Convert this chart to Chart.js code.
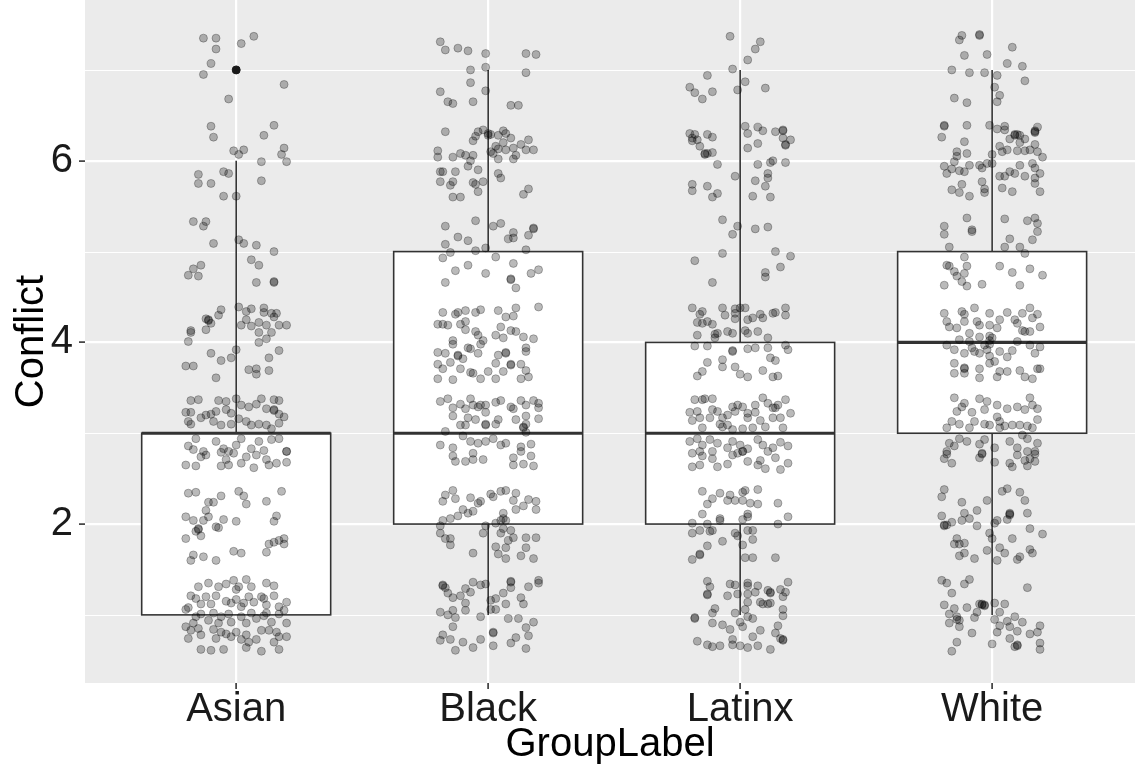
<!DOCTYPE html>
<html lang="en">
<head>
  <meta charset="UTF-8" />
  <title>Conflict by GroupLabel</title>
  <script src="https://cdn.jsdelivr.net/npm/chart.js"></script>
  <style>
    body { margin: 0; background: #fff; }
    #wrap { width: 1135px; height: 765px; position: relative; }
  </style>
</head>
<body>
<div id="wrap"><canvas id="chart"></canvas></div>
<script>
// groups and box statistics
const groups = ['Asian', 'Black', 'Latinx', 'White'];
const whiskerLow = [1, 1, 1, 1];
const q1 = [1, 2, 2, 3];
const medians = [3, 3, 3, 4];
const q3 = [3, 5, 4, 5];
const whiskerHigh = [6, 7, 7, 7];
const outliers = [[7], [], [], []];

const yTicks = [2, 4, 6];
const yMinor = [1, 3, 5, 7];

// jittered observations: [horizontal jitter, Conflict]
const asianPoints = [
  [-0.13,7.35],[-0.08,7.35],[-0.08,7.23],[0.02,7.29],[0.07,7.37],[-0.10,7.07],[-0.13,6.95],[0.19,6.84],[-0.03,6.68],[-0.10,6.38],
  [-0.09,6.26],[0.15,6.39],[0.11,6.28],[-0.01,6.11],[0.01,6.07],[0.03,6.12],[0.19,6.14],[0.18,6.07],[0.10,5.99],[0.20,5.99],
  [-0.15,5.85],[-0.15,5.75],[-0.10,5.75],[-0.05,5.88],[-0.03,5.86],[0.10,5.78],[-0.05,5.61],[0.00,5.61],[-0.17,5.33],[-0.12,5.33],[-0.13,5.28],
  [-0.09,5.09],[0.01,5.13],[0.03,5.09],[0.08,5.07],[0.15,5.00],[0.06,4.91],[0.09,4.85],[-0.14,4.85],[-0.17,4.81],[-0.19,4.74],
  [-0.15,4.73],[0.08,4.66],[0.15,4.67],[0.15,4.66],[-0.06,4.36],[-0.07,4.30],[-0.12,4.26],[-0.11,4.24],[-0.11,4.25],[-0.10,4.21],
  [-0.18,4.13],[-0.18,4.11],[-0.12,4.14],[-0.19,4.01],[0.01,4.39],[0.04,4.34],[0.06,4.37],[0.11,4.38],[0.11,4.33],[0.14,4.32],
  [0.16,4.32],[0.15,4.28],[0.04,4.25],[0.02,4.19],[0.06,4.18],[0.09,4.22],[0.12,4.19],[0.17,4.19],[0.20,4.19],[0.09,4.11],
  [0.14,4.11],[0.12,4.04],[0.09,4.00],[0.00,3.92],[0.17,3.91],[-0.10,3.88],[-0.06,3.80],[-0.02,3.83],[0.13,3.83],[-0.20,3.74],
  [-0.17,3.74],[0.05,3.70],[0.08,3.71],[0.08,3.65],[0.13,3.69],[-0.08,3.61],
  [-0.18,3.36],[-0.15,3.37],[-0.07,3.36],[-0.04,3.35],[0.00,3.38],[0.10,3.38],[0.15,3.37],[0.17,3.36],
  [-0.20,3.23],[-0.18,3.23],[-0.12,3.20],[-0.10,3.21],[-0.08,3.24],[-0.04,3.26],[-0.02,3.22],[0.02,3.31],[0.05,3.29],[0.08,3.32],
  [0.12,3.27],[0.15,3.26],[0.15,3.25],[0.17,3.21],[0.19,3.18],
  [-0.19,3.13],[-0.18,3.10],[-0.14,3.17],[-0.09,3.13],[-0.06,3.09],[-0.02,3.10],[0.01,3.16],[0.04,3.13],[0.06,3.09],[0.09,3.10],
  [0.12,3.09],[0.14,3.05],[0.17,3.11],
  [-0.19,2.86],[-0.16,2.94],[-0.17,2.82],[-0.13,2.80],[-0.08,2.91],[-0.05,2.83],[-0.03,2.80],[0.00,2.87],[0.02,2.94],[0.06,2.83],
  [0.09,2.91],[0.11,2.81],[0.14,2.93],[0.17,2.94],[0.20,2.80],
  [-0.20,2.65],[-0.16,2.64],[-0.14,2.74],[-0.12,2.76],[-0.06,2.79],[-0.04,2.71],[-0.03,2.65],[-0.01,2.78],[0.02,2.67],[0.04,2.74],
  [0.07,2.62],[0.08,2.76],[0.12,2.71],[0.13,2.65],[0.16,2.67],[0.20,2.68],[0.20,2.80],[-0.06,2.64],
  [-0.19,2.34],[-0.16,2.35],[-0.06,2.31],[0.01,2.36],[0.03,2.31],[0.04,2.22],[0.12,2.25],[0.18,2.36],[-0.11,2.24],[-0.09,2.24],
  [-0.12,2.15],[-0.11,2.08],[-0.20,2.08],[-0.17,2.04],[-0.13,2.04],[-0.05,2.05],[0.00,2.03],[-0.08,1.97],[-0.07,1.96],[0.16,2.09],
  [0.15,2.03],[-0.15,1.94],[-0.15,1.95],[-0.16,1.92],[-0.14,1.87],[-0.20,1.84],[0.13,1.78],[0.15,1.80],[0.17,1.82],[0.19,1.84],
  [0.19,1.78],[-0.17,1.66],[-0.18,1.60],[-0.13,1.64],[-0.08,1.60],[-0.01,1.70],[0.02,1.68],[0.12,1.69],
  [-0.15,1.31],[-0.11,1.35],[-0.07,1.31],[-0.04,1.34],[-0.01,1.38],[0.01,1.31],[0.04,1.39],[0.06,1.31],[0.12,1.35],[0.15,1.32],[0.00,1.28],
  [-0.18,1.21],[-0.16,1.18],[-0.14,1.12],[-0.10,1.12],[-0.08,1.21],[-0.04,1.15],[-0.02,1.13],[0.00,1.17],[0.03,1.13],[0.05,1.20],
  [0.07,1.14],[0.10,1.20],[0.12,1.11],[0.15,1.21],[0.17,1.09],[0.20,1.14],[-0.19,1.08],[-0.12,1.20],[0.02,1.09],[0.11,1.18],
  [-0.20,1.06],[-0.16,0.98],[-0.14,1.01],[-0.11,0.94],[-0.09,1.02],[-0.06,0.98],[-0.03,1.01],[-0.02,0.92],[0.02,0.98],[0.04,0.91],
  [0.06,1.02],[0.08,0.96],[0.11,0.99],[0.14,0.92],[0.17,1.01],[0.19,1.05],[0.20,0.91],[-0.17,0.91],[-0.07,0.91],[0.12,1.02],
  [-0.20,0.87],[-0.18,0.83],[-0.15,0.85],[-0.14,0.78],[-0.09,0.84],[-0.06,0.81],[-0.04,0.79],[-0.02,0.76],[0.00,0.81],[0.04,0.78],
  [0.05,0.70],[0.08,0.73],[0.10,0.83],[0.13,0.83],[0.16,0.81],[0.17,0.76],[0.20,0.76],[-0.19,0.74],[-0.08,0.74],[0.02,0.73],[0.15,0.70],
  [-0.14,0.62],[-0.10,0.61],[-0.05,0.62],[0.04,0.64],[0.10,0.60],[0.17,0.62]
];

const blackPoints = [
  [-0.19,7.31],[-0.17,7.22],[-0.12,7.24],[-0.08,7.21],[-0.01,7.18],[0.15,7.18],[0.19,7.17],[-0.07,7.00],[-0.01,7.03],[0.15,6.97],
  [-0.07,6.86],[-0.19,6.76],[-0.16,6.65],[-0.14,6.63],[-0.06,6.65],[-0.01,6.77],[0.09,6.61],[0.12,6.61],[-0.17,6.32],[-0.05,6.27],
  [-0.04,6.32],[-0.02,6.34],[0.00,6.28],[0.00,6.30],[0.01,6.29],[-0.06,6.22],
  [0.06,6.33],[0.07,6.30],[0.04,6.28],[0.09,6.25],[0.06,6.20],[0.03,6.16],[0.01,6.10],[0.04,6.13],[0.07,6.12],[0.10,6.14],
  [0.13,6.18],[0.16,6.23],[0.18,6.12],[0.15,6.12],[0.10,6.02],[0.11,6.06],[0.04,6.02],[0.02,6.08],
  [-0.20,6.11],[-0.20,6.04],[-0.14,6.04],[-0.11,6.08],[-0.09,6.06],[-0.06,6.06],[-0.07,6.00],[-0.08,5.94],[-0.04,5.90],[-0.19,5.88],
  [-0.18,5.88],[-0.13,5.88],[-0.19,5.77],[-0.15,5.73],[-0.14,5.77],[-0.06,5.76],[-0.05,5.74],[-0.02,5.77],[-0.04,5.66],[0.04,5.86],
  [0.05,5.81],[0.16,5.69],[0.14,5.63],[-0.14,5.60],[-0.11,5.60],[-0.17,5.28],[-0.05,5.34],[0.05,5.31],[0.02,5.28],[0.18,5.26],
  [-0.12,5.16],[-0.08,5.12],[0.10,5.21],[0.10,5.15],[0.08,5.14],[0.16,5.18],[0.18,5.25],[-0.17,5.08],[-0.15,4.99],[-0.18,4.93],
  [-0.05,5.01],[-0.01,5.04],[0.03,4.94],[0.15,5.02],[0.10,4.87],[-0.08,4.85],[-0.13,4.79],[-0.01,4.76],[0.17,4.76],[0.20,4.80],
  [0.09,4.69],[0.09,4.70],[0.11,4.60],[-0.17,4.66],
  [-0.18,4.33],[-0.13,4.31],[-0.12,4.33],[-0.09,4.35],[-0.05,4.33],[-0.03,4.36],[0.04,4.35],[0.07,4.28],[0.10,4.29],[0.11,4.38],
  [0.20,4.39],[-0.20,4.20],[-0.18,4.20],[-0.16,4.19],[-0.11,4.20],[-0.09,4.23],[-0.09,4.14],[-0.05,4.12],[-0.04,4.08],[0.03,4.08],
  [0.05,4.17],[0.06,4.05],[0.09,4.13],[0.11,4.12],[0.14,4.06],[0.18,4.04],[-0.14,4.02],[-0.14,3.98],[-0.03,3.98],[-0.02,4.02],
  [-0.04,3.88],[-0.08,3.94],[-0.07,3.93],[-0.20,3.89],[-0.17,3.88],[-0.12,3.86],[-0.12,3.85],[-0.10,3.82],[0.04,3.86],[0.07,3.89],
  [0.07,3.88],[0.15,3.90],[0.15,3.94],[-0.20,3.76],[-0.18,3.71],[-0.15,3.78],[-0.11,3.71],[-0.07,3.67],[-0.06,3.66],[-0.03,3.60],
  [0.00,3.68],[0.03,3.77],[0.06,3.68],[0.09,3.76],[0.09,3.75],[0.13,3.76],[0.15,3.69],[0.16,3.62],[0.13,3.60],[0.03,3.60],
  [-0.20,3.60],[-0.14,3.59],
  [-0.19,3.35],[-0.16,3.38],[-0.14,3.28],[-0.11,3.32],[-0.09,3.27],[-0.07,3.38],[-0.06,3.31],[-0.04,3.29],[-0.03,3.31],[-0.01,3.31],
  [0.03,3.34],[0.05,3.36],[0.09,3.29],[0.10,3.27],[0.13,3.36],[0.15,3.31],[0.18,3.36],[0.20,3.33],[0.20,3.28],
  [-0.14,3.19],[-0.11,3.09],[-0.09,3.09],[-0.08,3.17],[-0.05,3.15],[-0.01,3.10],[-0.01,3.23],[0.03,3.10],[0.04,3.15],[0.11,3.15],
  [0.15,3.19],[0.15,3.10],[0.20,3.16],[0.14,3.06],[-0.01,3.09],[0.14,3.07],
  [-0.17,3.02],[-0.19,2.87],[-0.14,2.84],[-0.10,2.97],[-0.07,2.91],[-0.04,2.89],[-0.01,2.91],[0.02,2.94],[0.05,2.87],[0.07,2.89],
  [0.13,2.85],[0.17,2.88],[0.15,3.01],
  [-0.14,2.75],[-0.13,2.69],[-0.09,2.69],[-0.06,2.71],[-0.02,2.71],[-0.06,2.78],[0.10,2.73],[0.14,2.66],[0.18,2.64],[0.17,2.75],
  [0.10,2.65],[0.13,2.80],
  [-0.17,2.32],[-0.18,2.25],[-0.14,2.37],[-0.13,2.28],[-0.07,2.29],[-0.04,2.23],[-0.03,2.25],[0.01,2.33],[0.02,2.30],[0.05,2.36],
  [0.07,2.37],[0.11,2.34],[0.10,2.26],[0.11,2.16],[0.14,2.20],[0.16,2.27],[0.19,2.25],[0.19,2.16],[-0.10,2.16],[-0.08,2.12],
  [-0.06,2.14],[-0.12,2.09],[-0.15,2.06],[-0.18,2.04],[-0.19,1.98],[-0.19,1.90],[-0.17,1.84],[-0.15,1.84],[-0.15,1.77],[-0.01,1.98],
  [-0.02,1.90],[0.03,2.01],[0.05,2.04],[0.06,2.12],[0.06,2.06],[0.07,2.04],[0.05,1.90],[0.06,1.95],[0.09,1.93],[0.10,1.85],
  [0.08,1.82],[0.15,1.85],[0.19,1.85],[0.03,1.75],[0.07,1.74],[0.15,1.74],[-0.06,1.68],[0.04,1.67],[0.07,1.62],[0.13,1.65],[0.18,1.62],
  [-0.18,1.33],[-0.17,1.30],[-0.16,1.24],[-0.14,1.19],[-0.11,1.21],[-0.09,1.29],[-0.07,1.25],[-0.06,1.36],[-0.03,1.33],[-0.01,1.34],
  [0.01,1.16],[0.03,1.18],[0.06,1.24],[0.09,1.30],[0.09,1.36],[0.13,1.19],[0.14,1.12],[0.16,1.31],[0.20,1.38],[0.20,1.35],
  [0.01,1.06],[0.03,1.06],[0.07,1.12],[-0.19,1.03],[-0.16,1.00],[-0.14,1.05],[-0.13,0.97],[-0.09,1.05],[-0.09,1.13],[-0.14,0.87],
  [-0.03,0.98],[0.08,0.96],[0.12,0.96],[0.15,0.86],[0.18,0.92],[-0.18,0.78],[-0.19,0.72],[-0.15,0.73],[-0.10,0.70],[-0.06,0.64],
  [-0.03,0.73],[0.02,0.81],[0.02,0.66],[0.09,0.69],[0.11,0.75],[0.16,0.77],[0.15,0.63],[-0.13,0.61],
  [-0.18,1.32],[0.02,0.80],[0.09,1.37]
];

const latinxPoints = [
  [-0.04,7.37],[0.08,7.31],[0.06,7.23],[0.03,7.11],[-0.03,7.01],[-0.13,6.94],[0.02,6.87],[-0.01,6.78],[0.10,6.80],[-0.20,6.81],
  [-0.18,6.75],[-0.15,6.68],[-0.11,6.76],
  [-0.20,6.30],[-0.18,6.29],[-0.19,6.22],[-0.17,6.23],[-0.16,6.16],[-0.13,6.29],[-0.11,6.26],[-0.14,6.08],[-0.13,6.08],[-0.11,6.09],
  [0.02,6.38],[0.03,6.30],[0.07,6.37],[0.09,6.33],[0.14,6.32],[0.17,6.34],[0.17,6.25],[0.20,6.23],[0.18,6.17],[0.03,6.14],[0.07,6.19],
  [0.17,6.33],[0.18,6.18],[-0.19,6.25],[-0.14,6.07],
  [-0.09,5.96],[-0.02,5.83],[0.07,5.96],[0.12,5.98],[0.13,6.00],[0.18,5.98],[0.11,5.86],[0.11,5.81],[0.10,5.72],[0.06,5.78],
  [-0.19,5.74],[-0.19,5.67],[-0.13,5.72],[-0.11,5.60],[-0.09,5.64],[0.05,5.61],[0.12,5.60],[-0.07,5.35],[-0.01,5.28],[0.06,5.25],[0.11,5.27],
  [-0.03,5.19],[-0.07,4.98],[-0.18,4.90],[0.14,5.00],[0.20,4.95],[0.16,4.83],[0.10,4.77],[0.10,4.72],[-0.11,4.66],
  [-0.19,4.38],[-0.15,4.34],[-0.16,4.31],[-0.07,4.38],[-0.06,4.30],[-0.02,4.37],[-0.02,4.32],[0.00,4.38],[0.02,4.38],[0.03,4.25],
  [0.05,4.27],[0.08,4.31],[0.09,4.27],[0.13,4.32],[0.14,4.33],[0.18,4.38],[0.18,4.30],[-0.17,4.22],[-0.15,4.21],[-0.13,4.23],
  [-0.11,4.20],[-0.02,4.26],[0.02,4.13],[0.03,4.10],[0.07,4.12],[0.11,4.05],[-0.17,4.08],[-0.10,4.09],[-0.09,4.10],[-0.05,4.12],
  [-0.03,4.10],[-0.10,4.05],
  [-0.18,3.96],[-0.13,3.96],[-0.03,3.91],[0.03,3.93],[0.06,3.94],[0.11,3.94],[0.18,3.97],[0.19,3.92],[-0.13,3.78],[-0.15,3.68],
  [-0.17,3.63],[-0.07,3.73],[-0.07,3.81],[-0.02,3.73],[0.00,3.65],[0.03,3.62],[0.09,3.69],[0.13,3.62],[0.15,3.63],[0.12,3.83],
  [0.14,3.80],[-0.03,3.90],
  [-0.18,3.37],[-0.15,3.37],[-0.14,3.38],[-0.11,3.38],[-0.20,3.23],[-0.17,3.24],[-0.16,3.17],[-0.19,3.14],[-0.15,3.06],[-0.11,3.26],
  [-0.12,3.17],[-0.09,3.24],[-0.07,3.17],[-0.08,3.10],[-0.05,3.20],[-0.05,3.09],[-0.03,3.29],[-0.02,3.24],[-0.01,3.31],[0.01,3.29],
  [0.03,3.17],[0.03,3.22],[0.06,3.31],[0.06,3.23],[0.08,3.14],[0.09,3.39],[0.11,3.33],[0.13,3.28],[0.14,3.28],[0.15,3.31],
  [0.18,3.37],[0.20,3.22],[0.16,3.17],[0.13,3.17],[0.10,3.07],[0.05,3.06],[0.01,3.05],[-0.03,3.04],[-0.07,3.07],[0.17,3.06],
  [-0.20,2.91],[-0.17,2.94],[-0.15,2.87],[-0.12,2.93],[-0.09,2.89],[-0.05,2.84],[-0.03,2.91],[0.00,2.87],[0.03,2.83],[0.07,2.93],
  [0.09,2.87],[0.13,2.84],[0.16,2.90],[0.19,2.86],[-0.11,2.80],[0.01,2.80],[0.11,2.80],[-0.16,2.80],
  [-0.19,2.78],[-0.15,2.75],[-0.11,2.72],[-0.09,2.63],[-0.19,2.63],[-0.16,2.65],[-0.05,2.66],[-0.03,2.76],[-0.01,2.78],[0.03,2.69],
  [0.08,2.70],[0.10,2.61],[0.14,2.73],[0.16,2.60],[0.19,2.67],[0.07,2.65],[0.01,2.80],
  [-0.15,2.36],[-0.11,2.28],[-0.13,2.22],[-0.08,2.34],[-0.04,2.32],[-0.05,2.26],[-0.02,2.26],[0.01,2.26],[0.02,2.37],[0.01,2.35],
  [0.04,2.23],[0.07,2.38],[0.07,2.22],[0.15,2.23],[-0.15,2.11],[-0.08,2.06],[-0.08,2.04],[0.03,2.11],[0.03,2.08],[0.01,2.05],
  [0.19,2.08],[-0.19,2.01],[-0.16,1.93],[-0.12,1.92],[-0.13,2.00],[-0.11,1.93],[-0.19,1.90],[-0.02,1.90],[-0.01,1.87],[0.03,1.93],
  [0.05,1.93],[0.15,2.00],[-0.07,1.81],[0.01,1.77],[0.05,1.83],[-0.13,1.76],[-0.16,1.66],[-0.19,1.61],[0.02,1.63],[0.05,1.63],
  [0.14,1.63],[-0.16,1.67],
  [-0.13,1.37],[-0.12,1.31],[-0.13,1.23],[-0.04,1.34],[-0.02,1.33],[0.03,1.35],[0.03,1.32],[0.07,1.32],[0.11,1.27],[0.12,1.24],
  [0.16,1.28],[0.19,1.36],[0.18,1.25],[-0.05,1.21],[-0.01,1.23],[0.03,1.23],[0.06,1.25],[0.08,1.14],[0.09,1.12],[0.12,1.13],
  [0.17,1.20],[0.03,1.14],[-0.10,1.07],[-0.11,1.02],[-0.02,1.02],[0.02,1.06],[0.03,0.98],[0.05,0.96],[0.17,1.06],[0.17,0.99],
  [-0.18,0.96],[-0.11,0.91],[-0.07,0.89],[-0.04,0.84],[0.00,0.92],[0.01,0.87],[0.08,0.83],[0.15,0.88],[0.14,0.80],[-0.17,0.71],
  [-0.13,0.67],[-0.11,0.65],[-0.08,0.66],[-0.03,0.73],[-0.03,0.67],[0.00,0.66],[0.03,0.64],[0.07,0.66],[0.05,0.76],[0.12,0.62],
  [0.16,0.74],[0.17,0.72],[-0.13,1.22],[0.12,1.25],[0.11,1.12],[-0.18,0.97],[0.17,0.73]
];

const whitePoints = [
  [-0.12,7.38],[-0.13,7.33],[-0.05,7.38],[-0.05,7.39],[0.08,7.25],[-0.11,7.16],[-0.02,7.17],[0.06,7.07],[0.12,7.04],[-0.16,7.00],
  [-0.09,6.97],[-0.03,6.97],[0.02,6.94],[0.13,6.88],[0.01,6.81],[0.03,6.72],[0.02,6.65],[-0.15,6.69],[-0.10,6.64],
  [-0.19,6.39],[-0.19,6.38],[-0.20,6.26],[-0.10,6.39],[-0.01,6.39],[-0.11,6.21],
  [0.02,6.35],[0.05,6.38],[0.05,6.34],[0.09,6.29],[0.09,6.28],[0.11,6.28],[0.17,6.32],[0.18,6.37],[0.17,6.33],[0.07,6.24],
  [0.11,6.20],[0.13,6.24],[0.17,6.18],[0.03,6.16],[0.04,6.10],[0.06,6.12],[0.10,6.11],[0.13,6.11],[0.15,6.12],[0.18,6.10],
  [0.20,6.04],[0.10,6.29],[0.17,6.31],
  [-0.14,6.10],[-0.14,6.05],[-0.10,6.08],[-0.15,5.99],[-0.19,5.94],[-0.18,5.86],[-0.16,5.91],[-0.13,5.89],[-0.11,5.88],[-0.09,5.95],
  [-0.05,5.95],[-0.04,5.92],[-0.02,5.97],[0.00,5.97],[0.00,6.07],
  [0.03,5.83],[0.05,5.83],[0.07,5.88],[0.09,5.86],[0.11,5.95],[0.13,5.83],[0.16,5.97],[0.17,5.92],[0.19,5.86],[0.17,5.75],[0.17,5.81],
  [-0.16,5.68],[-0.13,5.65],[-0.12,5.74],[-0.09,5.61],[-0.04,5.77],[-0.03,5.65],[-0.03,5.69],[0.04,5.70],[0.08,5.66],[0.19,5.66],
  [-0.19,5.28],[-0.10,5.37],[-0.08,5.24],[0.05,5.36],[0.14,5.34],[0.17,5.37],[0.18,5.31],
  [-0.19,5.19],[-0.08,5.22],[0.07,5.14],[0.16,5.13],[0.18,5.22],[-0.17,5.05],[-0.11,4.94],[0.05,5.05],[0.11,5.05],[0.13,4.98],
  [-0.18,4.85],[-0.17,4.84],[-0.15,4.78],[-0.14,4.73],[-0.11,4.76],[-0.10,4.84],[-0.12,4.67],[-0.10,4.62],[-0.19,4.63],[-0.04,4.64],
  [0.03,4.84],[0.08,4.77],[0.15,4.81],[0.20,4.74],[0.11,4.63],
  [-0.19,4.32],[-0.18,4.23],[-0.17,4.17],[-0.14,4.16],[-0.12,4.34],[-0.11,4.31],[-0.11,4.23],[-0.09,4.10],[-0.07,4.38],[-0.06,4.23],
  [-0.05,4.19],[-0.01,4.32],[-0.01,4.19],[-0.01,4.07],[0.03,4.25],[0.02,4.16],[0.06,4.33],[0.09,4.25],[0.10,4.21],[0.12,4.32],
  [0.13,4.12],[0.15,4.38],[0.15,4.12],[0.16,4.27],[0.18,4.31],[0.19,4.17],[-0.13,4.03],[-0.18,3.97],[-0.15,3.92],[-0.11,3.88],
  [-0.08,3.94],[-0.07,3.90],[-0.05,3.88],[-0.03,3.97],[-0.02,3.92],[-0.01,3.85],[0.03,3.90],[0.06,3.84],[0.08,3.91],[0.10,4.01],
  [0.15,3.97],[0.17,3.88],[0.19,3.95],[-0.15,3.77],[-0.11,3.71],[-0.11,3.66],[-0.05,3.71],[-0.05,3.61],[-0.01,3.77],[0.02,3.62],
  [0.03,3.68],[0.06,3.68],[0.11,3.69],[0.13,3.62],[0.16,3.60],[0.18,3.71],[0.19,3.71],[-0.15,3.66],[0.01,3.79],[-0.05,4.06],
  [-0.09,4.01],[-0.01,4.02],[-0.01,3.98],[0.00,4.05],[0.12,4.13],[-0.11,3.72],
  [-0.15,3.39],[-0.12,3.29],[-0.14,3.24],[-0.11,3.33],[-0.08,3.23],[-0.05,3.38],[-0.03,3.26],[-0.02,3.35],[0.02,3.31],[0.06,3.27],
  [0.10,3.29],[0.13,3.26],[0.15,3.39],[0.16,3.31],[0.18,3.27],[-0.16,3.13],[-0.18,3.06],[-0.13,3.10],[-0.09,3.06],[-0.07,3.13],
  [-0.03,3.10],[0.02,3.18],[0.03,3.13],[0.05,3.08],[0.08,3.09],[0.11,3.09],[0.14,3.08],[0.18,3.15],[0.16,3.06],[0.03,3.06],[-0.01,3.09],
  [-0.17,2.89],[-0.15,2.86],[-0.13,2.94],[-0.10,2.91],[-0.05,2.88],[-0.03,2.93],[-0.18,2.80],[0.01,2.84],[0.07,2.91],[0.12,2.98],
  [0.14,2.94],[0.18,2.89],[0.17,2.80],[0.10,2.84],[0.14,2.80],[-0.04,2.78],
  [-0.19,2.72],[-0.16,2.67],[-0.18,2.77],[-0.04,2.77],[-0.05,2.73],[0.01,2.68],[0.07,2.67],[0.08,2.63],[0.10,2.76],[0.13,2.70],
  [0.14,2.64],[0.17,2.69],[0.17,2.77],[0.15,2.72],
  [-0.19,2.38],[-0.20,2.30],[-0.12,2.24],[-0.02,2.26],[0.04,2.36],[0.06,2.39],[0.11,2.35],[0.13,2.26],[0.14,2.12],[-0.06,2.15],
  [-0.11,2.12],[-0.09,2.06],[-0.12,2.04],[-0.20,2.09],[-0.19,1.98],[-0.16,2.02],[-0.18,1.99],[-0.06,1.98],[0.01,2.01],[0.02,2.04],
  [0.06,2.05],[0.07,2.12],[0.07,2.10],[0.15,1.95],[0.20,1.89],[-0.01,1.90],[0.00,1.84],[-0.14,1.84],[-0.11,1.79],[-0.15,1.78],
  [-0.13,1.78],[-0.13,1.65],[-0.11,1.68],[-0.07,1.62],[-0.02,1.71],[0.03,1.74],[0.05,1.68],[0.02,1.60],[0.10,1.61],[0.11,1.64],
  [0.15,1.72],[0.16,1.68],[0.08,1.84],[0.07,2.11],[-0.19,1.99],
  [-0.20,1.38],[-0.18,1.35],[-0.11,1.34],[-0.09,1.39],[-0.16,1.24],[0.14,1.30],[-0.19,1.11],[-0.15,1.07],[-0.10,1.08],[-0.05,1.12],
  [-0.04,1.11],[-0.03,1.10],[0.01,1.13],[0.05,1.12],[-0.17,1.01],[-0.17,0.91],[-0.14,0.98],[-0.13,0.94],[-0.13,0.87],[-0.07,0.97],
  [-0.06,1.03],[-0.08,0.80],[0.01,0.95],[0.03,1.03],[0.02,0.81],[0.03,0.88],[0.06,0.93],[0.07,0.87],[0.09,0.98],[0.10,0.82],
  [0.12,0.92],[0.15,0.79],[0.19,0.88],[0.18,0.81],[-0.14,0.70],[-0.16,0.60],[0.00,0.68],[0.07,0.74],[0.10,0.67],[0.09,0.65],
  [0.19,0.69],[0.19,0.62],[-0.04,1.12],[-0.03,1.11],[-0.14,0.95],[0.10,0.66]
];

const groupPoints = [asianPoints, blackPoints, latinxPoints, whitePoints];

const FONT = "'Liberation Sans', Arial, sans-serif";

// panel background, minor grid, boxes and whiskers
const boxPlugin = {
  id: 'boxes',
  beforeDraw(chart) {
    const { ctx, chartArea: a, scales: { y } } = chart;
    ctx.save();
    ctx.fillStyle = '#EBEBEB';
    ctx.fillRect(a.left, a.top, a.right - a.left, a.bottom - a.top);
    ctx.strokeStyle = '#FFFFFF';
    ctx.lineWidth = 1.1;
    yMinor.forEach(v => {
      const py = Math.round(y.getPixelForValue(v)) + 0.5;
      ctx.beginPath();
      ctx.moveTo(a.left, py);
      ctx.lineTo(a.right, py);
      ctx.stroke();
    });
    ctx.restore();
  },
  beforeDatasetsDraw(chart) {
    const { ctx, scales: { x, y } } = chart;
    ctx.save();
    ctx.strokeStyle = '#333333';
    groups.forEach((g, i) => {
      const cx = x.getPixelForValue(i + 1);
      const left = x.getPixelForValue(i + 1 - 0.375);
      const right = x.getPixelForValue(i + 1 + 0.375);
      const yq1 = y.getPixelForValue(q1[i]);
      const yq3 = y.getPixelForValue(q3[i]);
      // whiskers
      ctx.lineWidth = 1.6;
      ctx.beginPath();
      ctx.moveTo(cx, yq3);
      ctx.lineTo(cx, y.getPixelForValue(whiskerHigh[i]));
      ctx.moveTo(cx, yq1);
      ctx.lineTo(cx, y.getPixelForValue(whiskerLow[i]));
      ctx.stroke();
      // box
      ctx.fillStyle = '#FFFFFF';
      ctx.fillRect(left, yq3, right - left, yq1 - yq3);
      ctx.lineWidth = 1.6;
      ctx.strokeRect(left, yq3, right - left, yq1 - yq3);
      // median
      ctx.lineWidth = 3.2;
      ctx.beginPath();
      const ym = y.getPixelForValue(medians[i]);
      ctx.moveTo(left, ym);
      ctx.lineTo(right, ym);
      ctx.stroke();
    });
    ctx.restore();
  }
};

const datasets = [{
  label: 'outliers',
  data: outliers.flatMap((vals, i) => vals.map(v => ({ x: i + 1, y: v }))),
  pointRadius: 4,
  pointBorderWidth: 1,
  backgroundColor: '#1A1A1A',
  borderColor: '#1A1A1A'
}];
groupPoints.forEach((pts, i) => {
  datasets.push({
    label: groups[i],
    data: pts.map(([dx, v]) => ({ x: i + 1 + dx, y: v })),
    pointRadius: 4,
    pointBorderWidth: 1,
    backgroundColor: 'rgba(0,0,0,0.27)',
    borderColor: 'rgba(0,0,0,0.27)'
  });
});

new Chart(document.getElementById('chart'), {
  type: 'scatter',
  data: { datasets },
  plugins: [boxPlugin],
  options: {
    responsive: true,
    maintainAspectRatio: false,
    devicePixelRatio: 1,
    animation: false,
    layout: { padding: 0, autoPadding: false },
    plugins: { legend: { display: false }, tooltip: { enabled: false } },
    scales: {
      x: {
        type: 'linear',
        min: 0.4,
        max: 4.567,
        afterBuildTicks: s => { s.ticks = groups.map((g, i) => ({ value: i + 1 })); },
        afterFit: s => { s.height = 82; s.paddingLeft = 0; s.paddingRight = 0; },
        ticks: {
          callback: v => groups[Math.round(v) - 1],
          font: { family: FONT, size: 40 },
          color: '#1A1A1A',
          padding: -3,
          maxRotation: 0,
          autoSkip: false
        },
        grid: { color: '#FFFFFF', lineWidth: 2.2, tickColor: '#333333', tickLength: 6, tickWidth: 1.6 },
        border: { display: false },
        title: { display: true, text: 'GroupLabel', color: '#000000', font: { family: FONT, size: 40 }, padding: { top: 0, bottom: -4 } }
      },
      y: {
        min: 0.25,
        max: 7.77,
        afterBuildTicks: s => { s.ticks = yTicks.map(v => ({ value: v })); },
        afterFit: s => { s.width = 85; s.paddingTop = 0; s.paddingBottom = 0; },
        ticks: {
          font: { family: FONT, size: 40 },
          color: '#1A1A1A',
          padding: 6
        },
        grid: { color: '#FFFFFF', lineWidth: 2.2, tickColor: '#333333', tickLength: 6, tickWidth: 1.6 },
        border: { display: false },
        title: { display: true, text: 'Conflict', color: '#000000', font: { family: FONT, size: 40 }, padding: { top: 8, bottom: 0 } }
      }
    }
  }
});
</script>
</body>
</html>
